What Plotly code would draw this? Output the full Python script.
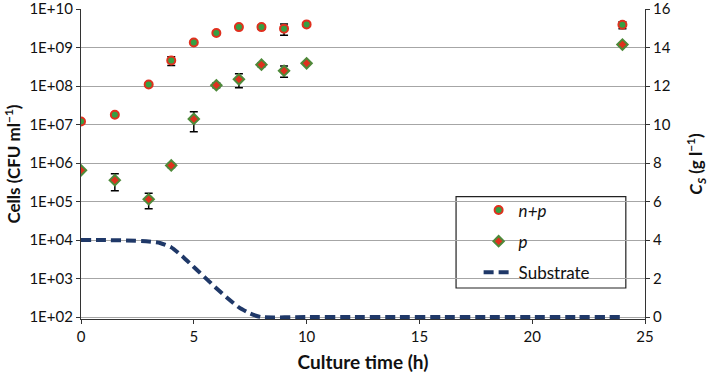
import plotly.graph_objects as go

# ---- data ----
time_cells = [0, 1.5, 3, 4, 5, 6, 7, 8, 9, 10, 24]
np_cells = [1.2e7, 1.8e7, 1.1e8, 4.6e8, 1.35e9, 2.4e9, 3.4e9, 3.4e9, 3.1e9, 4.0e9, 3.9e9]
np_err = [0, 0, 0, 1.2e8, 0, 2e8, 3e8, 4e8, 1.0e9, 0, 8e8]
p_cells = [6.5e5, 3.6e5, 1.15e5, 8.7e5, 1.4e7, 1.05e8, 1.5e8, 3.6e8, 2.5e8, 3.9e8, 1.2e9]
p_err = [0, 1.7e5, 5e4, 1e5, 7.5e6, 1.5e7, 6e7, 4e7, 8e7, 0, 1e8]

time_sub = [0, 1, 2, 3, 3.5, 4, 4.5, 5, 5.5, 6, 6.5, 7, 7.5, 8, 10, 12, 14, 16, 18, 20, 22, 24]
substrate = [4.0, 4.0, 3.98, 3.93, 3.85, 3.62, 3.15, 2.6, 2.05, 1.5, 0.98, 0.5, 0.18, 0.0,
             0, 0, 0, 0, 0, 0, 0, 0]

left_tickvals = [1e2, 1e3, 1e4, 1e5, 1e6, 1e7, 1e8, 1e9, 1e10]
left_ticktext = ["1E+02", "1E+03", "1E+04", "1E+05", "1E+06", "1E+07", "1E+08", "1E+09", "1E+10"]
right_tickvals = [0, 2, 4, 6, 8, 10, 12, 14, 16]
x_tickvals = [0, 5, 10, 15, 20, 25]

FONT = "Lato"
GREEN = "#35A043"
RED = "#E0301E"
NAVY = "#1F3868"

fig = go.Figure()
fig.add_trace(go.Scatter(
    x=time_cells, y=np_cells, mode="markers", name="<i>n+p</i>", legendgroup="a",
    marker=dict(symbol="circle", size=8, color=GREEN, line=dict(color=RED, width=2)),
    error_y=dict(type="data", array=np_err, visible=True, color="black", thickness=1.5, width=4),
))
fig.add_trace(go.Scatter(
    x=time_cells, y=p_cells, mode="markers", name="<i>p</i>", legendgroup="b",
    marker=dict(symbol="diamond", size=8, color=RED, line=dict(color="#4E8A3A", width=2)),
    error_y=dict(type="data", array=p_err, visible=True, color="black", thickness=1.5, width=4),
))
fig.add_trace(go.Scatter(
    x=time_sub, y=substrate, mode="lines", name="Substrate", legendgroup="c", yaxis="y2",
    line=dict(color=NAVY, width=4, dash="10px,5px", shape="spline", smoothing=0.5),
))

fig.update_layout(
    width=709, height=375,
    margin=dict(l=81, r=64, t=9, b=56),
    paper_bgcolor="white", plot_bgcolor="white",
    font=dict(family=FONT, size=15, color="#111111"),
    xaxis=dict(
        range=[0, 25], tickvals=x_tickvals, showgrid=False, zeroline=False, automargin=False,
        showline=True, linecolor="#333333", linewidth=1.2,
        ticks="outside", ticklen=4, tickcolor="#333333",
        title=dict(text="<b>Culture time (h)</b>", font=dict(size=19), standoff=11),
    ),
    yaxis=dict(
        type="log", range=[1.95, 10.002], tickvals=left_tickvals, ticktext=left_ticktext,
        showgrid=True, gridcolor="#A6A6A6", gridwidth=1.3, zeroline=False, automargin=False,
        showline=True, linecolor="#333333", linewidth=1.2, ticklabeloverflow="allow",
        ticks="outside", ticklen=4, tickcolor="#333333",
        title=dict(text="<b>Cells (CFU ml<sup>−1</sup>)</b>", font=dict(size=17), standoff=4),
    ),
    yaxis2=dict(
        overlaying="y", side="right", range=[-0.1, 16.004], tickvals=right_tickvals,
        showgrid=False, zeroline=False, automargin=False, ticklabeloverflow="allow",
        showline=True, linecolor="#333333", linewidth=1.2,
        ticks="outside", ticklen=4, tickcolor="#333333",
        title=dict(text="<b><i>C</i><sub><i>S</i></sub> (g l<sup>−1</sup>)</b>", font=dict(size=17), standoff=22),
    ),
    showlegend=True,
    legend=dict(
        x=0.705, y=0.408, xanchor="left", yanchor="top",
        bgcolor="rgba(0,0,0,0)", borderwidth=0,
        font=dict(size=17, family=FONT),
        traceorder="grouped", tracegroupgap=6,
    ),
    shapes=[dict(type="rect", xref="paper", yref="paper", x0=0.665, x1=0.966, y0=0.1, y1=0.395,
                 line=dict(color="#222222", width=1.2), fillcolor="white", layer="between")],
)

fig.write_html("out.html", config={"displayModeBar": False},
               post_script="document.body.style.margin='0';")
